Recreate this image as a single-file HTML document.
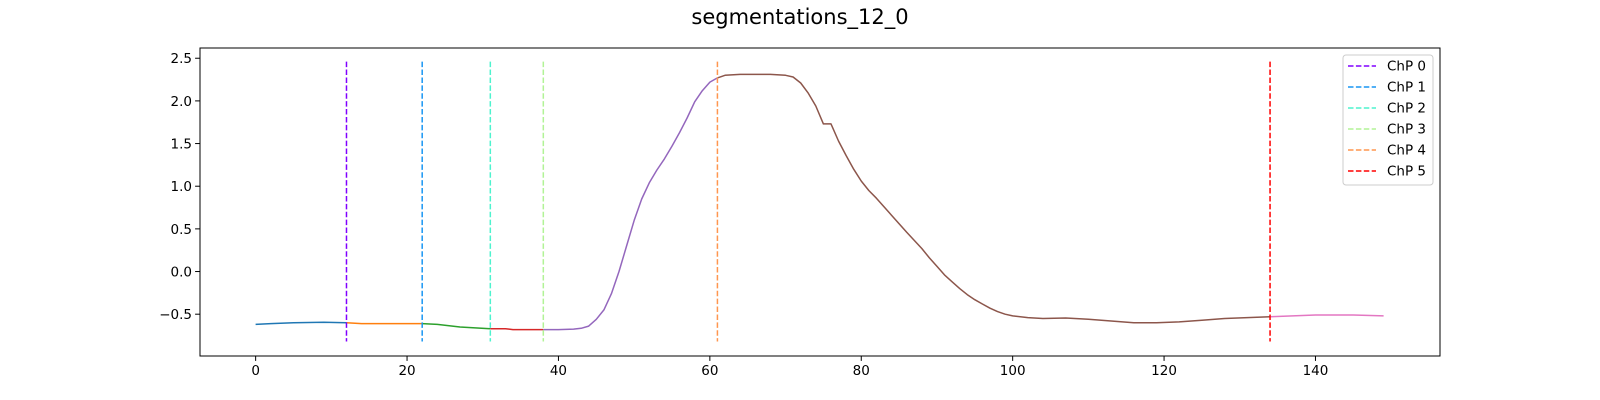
<!DOCTYPE html>
<html><head><meta charset="utf-8"><style>
body{margin:0;background:#fff}
svg{display:block;font-family:"DejaVu Sans","Liberation Sans",sans-serif}
</style></head><body>
<svg id="chart" width="1600" height="400"></svg>
<script>
const xs=[0,2,5,9,12,14,18,22,24,27,31,33,34,38,40,42,43,44,45,46,47,48,49,50,51,52,53,54,55,56,57,58,59,60,61,62,64,66,68,70,71,72,73,74,75,76,77,78,79,80,81,82,84,86,88,89,90,91,92,93,94,95,96,97,98,99,100,102,104,107,110,113,116,119,122,125,128,131,134,137,140,145,149];
const ys=[-0.62,-0.61,-0.60,-0.595,-0.60,-0.61,-0.61,-0.61,-0.62,-0.65,-0.67,-0.67,-0.68,-0.68,-0.68,-0.675,-0.665,-0.64,-0.56,-0.45,-0.26,0.0,0.3,0.60,0.85,1.04,1.19,1.32,1.47,1.63,1.80,1.99,2.12,2.22,2.27,2.30,2.31,2.31,2.31,2.30,2.28,2.21,2.09,1.94,1.73,1.73,1.53,1.36,1.20,1.06,0.95,0.86,0.66,0.46,0.27,0.16,0.06,-0.04,-0.12,-0.20,-0.27,-0.33,-0.38,-0.43,-0.47,-0.50,-0.52,-0.54,-0.55,-0.545,-0.56,-0.58,-0.60,-0.60,-0.59,-0.57,-0.55,-0.54,-0.53,-0.52,-0.51,-0.51,-0.52];
const segBounds=[0,12,22,31,38,61,134,149];
const segColors=["#1f77b4","#ff7f0e","#2ca02c","#d62728","#9467bd","#8c564b","#e377c2"];
const chps=[12,22,31,38,61,134];
const chpColors=["#8000ff","#1996f3","#4df3ce","#b2f396","#ff964f","#ff0000"];
const xTicks=[0,20,40,60,80,100,120,140];
const yTicks=[-0.5,0.0,0.5,1.0,1.5,2.0,2.5];
const L=200,R=1440,T=48,B=356,X0=-7.35,X1=156.45,Y0=-0.99,Y1=2.62;
const sx=v=>L+(v-X0)/(X1-X0)*(R-L);
const sy=v=>B-(v-Y0)/(Y1-Y0)*(B-T);
const NS="http://www.w3.org/2000/svg";
const svg=document.getElementById('chart');
function mk(t,a,p){const e=document.createElementNS(NS,t);for(const k in a)e.setAttribute(k,a[k]);(p||svg).appendChild(e);return e;}
const title=mk('text',{x:800,y:24,'text-anchor':'middle','font-size':'21'});
title.textContent='segmentations_12_0';


// segments
for(let s=0;s<segBounds.length-1;s++){
  const a=segBounds[s],b=segBounds[s+1];
  const pts=[];
  for(let i=0;i<xs.length;i++){if(xs[i]>=a&&xs[i]<=b)pts.push(sx(xs[i]).toFixed(1)+','+sy(ys[i]).toFixed(1));}
  const pl=mk('polyline',{points:pts.join(' '),fill:'none',stroke:segColors[s],'stroke-width':1.5,'stroke-linejoin':'round'});
  
  
}
// change points
chps.forEach((c,i)=>{
  const l=mk('line',{x1:sx(c),x2:sx(c),y1:sy(2.46),y2:sy(-0.82),stroke:chpColors[i],'stroke-width':1.5,'stroke-dasharray':'5.5,2.4'});
  
  
});
// axes frame
const fr=mk('rect',{x:L,y:T,width:R-L,height:B-T,fill:'none',stroke:'#000','stroke-width':1});


xTicks.forEach(t=>{
  const x=sx(t);
  mk('line',{x1:x,x2:x,y1:B,y2:B+4.9,stroke:'#000'});
  const tx=mk('text',{x:x,y:B+19,'text-anchor':'middle','font-size':'13.5'});
  tx.textContent=t;
  
  
});
yTicks.forEach(t=>{
  const y=sy(t);
  mk('line',{x1:L-4.9,x2:L,y1:y,y2:y,stroke:'#000'});
  const tx=mk('text',{x:L-8,y:y+5,'text-anchor':'end','font-size':'13.5'});
  tx.textContent=(t<0?'\u2212':'')+Math.abs(t).toFixed(1);
  
  
});
// legend
const lg=mk('g',{});


mk('rect',{x:1343,y:55,width:90,height:130,rx:3,fill:'#fff','fill-opacity':0.8,stroke:'#ccc'},lg);
chps.forEach((c,i)=>{
  const y=66+i*21;
  const g=mk('g',{},lg);
  
  
  mk('line',{x1:1348,x2:1376,y1:y,y2:y,stroke:chpColors[i],'stroke-width':1.5,'stroke-dasharray':'5.5,2.4'},g);
  const t=mk('text',{x:1387,y:y+4.5,'font-size':'13.5'},g);
  t.textContent='ChP '+i;
});
</script>
</body></html>
